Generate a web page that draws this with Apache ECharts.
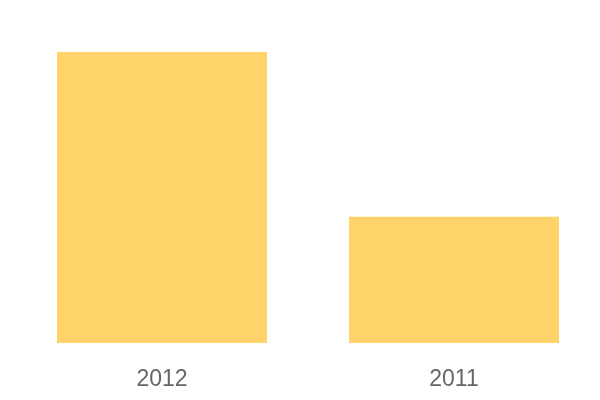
<!DOCTYPE html>
<html>
<head>
<meta charset="utf-8">
<script src="https://cdn.jsdelivr.net/npm/echarts@6/dist/echarts.min.js"></script>
<style>html,body{margin:0;padding:0;background:#fff}#c{width:600px;height:400px}</style>
</head>
<body>
<div id="c"></div>
<script>
const categories = ['2012', '2011'];
const values = [100, 43.4];
const chart = echarts.init(document.getElementById('c'), null, {renderer: 'canvas'});
chart.setOption({
  animation: false,
  grid: {left: 16, right: 0, top: 52, bottom: 57},
  xAxis: {
    type: 'category', data: categories,
    axisLine: {show: false}, axisTick: {show: false},
    axisLabel: {color: '#666', fontSize: 23, margin: 25, fontFamily: 'Liberation Sans, Arial, sans-serif'}
  },
  yAxis: {type: 'value', min: 0, max: 100, show: false, splitLine: {show: false}},
  series: [{type: 'bar', data: values, barWidth: 210, itemStyle: {color: '#fed46a'}}]
});
</script>
</body>
</html>
